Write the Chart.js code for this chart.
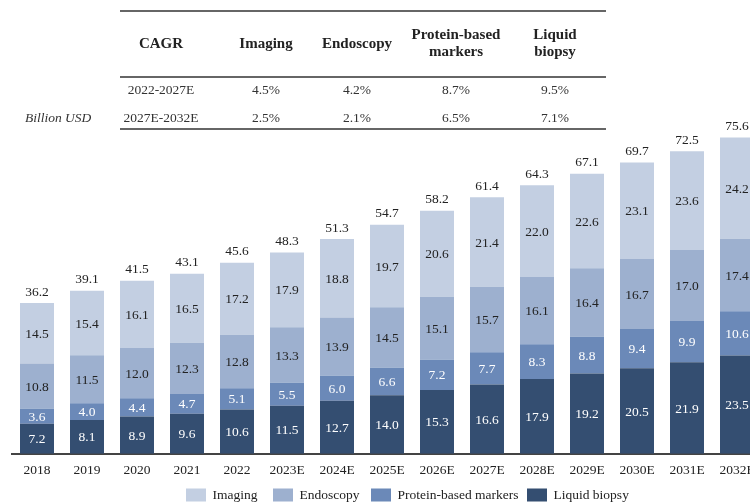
<!DOCTYPE html>
<html>
<head>
<meta charset="utf-8">
<script src="https://cdn.jsdelivr.net/npm/chart.js@4"></script>
<style>
  html, body { margin: 0; padding: 0; background: #fff; overflow: hidden; }
  #wrap { position: relative; width: 750px; height: 503px; overflow: hidden; }
  #chart { position: absolute; left: 0; top: 0; }
</style>
</head>
<body>
<div id="wrap">
  <canvas id="chart" width="812" height="503"></canvas>
</div>
<script>
const years = ["2018", "2019", "2020", "2021", "2022", "2023E", "2024E", "2025E",
  "2026E", "2027E", "2028E", "2029E", "2030E", "2031E", "2032E"];

const liquidBiopsy = [7.2, 8.1, 8.9, 9.6, 10.6, 11.5, 12.7, 14.0, 15.3, 16.6, 17.9, 19.2, 20.5, 21.9, 23.5];
const proteinMarkers = [3.6, 4.0, 4.4, 4.7, 5.1, 5.5, 6.0, 6.6, 7.2, 7.7, 8.3, 8.8, 9.4, 9.9, 10.6];
const endoscopy = [10.8, 11.5, 12.0, 12.3, 12.8, 13.3, 13.9, 14.5, 15.1, 15.7, 16.1, 16.4, 16.7, 17.0, 17.4];
const imaging = [14.5, 15.4, 16.1, 16.5, 17.2, 17.9, 18.8, 19.7, 20.6, 21.4, 22.0, 22.6, 23.1, 23.6, 24.2];
const totals = [36.2, 39.1, 41.5, 43.1, 45.6, 48.3, 51.3, 54.7, 58.2, 61.4, 64.3, 67.1, 69.7, 72.5, 75.6];

// CAGR table above the bars
const cagrHeaders = ["CAGR", "Imaging", "Endoscopy", "Protein-based\nmarkers", "Liquid\nbiopsy"];
const cagrRows = [
  ["2022-2027E", "4.5%", "4.2%", "8.7%", "9.5%"],
  ["2027E-2032E", "2.5%", "2.1%", "6.5%", "7.1%"],
];
const unitLabel = "Billion USD";

const SERIF = '"Liberation Serif", "DejaVu Serif", serif';

const colors = {
  imaging: "#c3cfe2",
  endoscopy: "#9db0cf",
  protein: "#6b89b8",
  liquid: "#344e71",
};

const segmentLabels = {
  id: "segmentLabels",
  afterDatasetsDraw(chart) {
    const ctx = chart.ctx;
    ctx.save();
    ctx.font = "13.5px " + SERIF;
    ctx.textAlign = "center";
    ctx.textBaseline = "middle";
    chart.data.datasets.forEach((ds, i) => {
      const meta = chart.getDatasetMeta(i);
      meta.data.forEach((bar, j) => {
        ctx.fillStyle = ds.labelColor;
        const mid = (bar.y + bar.base) / 2 + 1;
        ctx.fillText(ds.data[j].toFixed(1), bar.x, mid);
      });
    });
    // totals on top of each stack
    const topMeta = chart.getDatasetMeta(chart.data.datasets.length - 1);
    ctx.fillStyle = "#222";
    topMeta.data.forEach((bar, j) => {
      ctx.fillText(totals[j].toFixed(1), bar.x, bar.y - 11);
    });
    ctx.restore();
  }
};

// legend along the bottom, top series first
const bottomLegend = {
  id: "bottomLegend",
  afterDraw(chart) {
    const ctx = chart.ctx;
    const items = chart.data.datasets.slice().reverse();
    const boxX = [186, 273, 371, 527];
    const boxW = 20, boxH = 13, y = 495;
    ctx.save();
    ctx.font = "13.5px " + SERIF;
    ctx.textBaseline = "middle";
    items.forEach((ds, i) => {
      ctx.fillStyle = ds.backgroundColor;
      ctx.fillRect(boxX[i], y - boxH / 2, boxW, boxH);
      ctx.fillStyle = "#222";
      ctx.fillText(ds.label, boxX[i] + boxW + 6.5, y);
    });
    ctx.restore();
  }
};

const cagrTable = {
  id: "cagrTable",
  afterDraw(chart) {
    const ctx = chart.ctx;
    const colX = [161, 266, 357, 456, 555];
    ctx.save();
    ctx.strokeStyle = "#333";
    ctx.lineWidth = 1.5;
    [11, 77, 129].forEach(y => {
      ctx.beginPath();
      ctx.moveTo(120, y);
      ctx.lineTo(606, y);
      ctx.stroke();
    });
    ctx.fillStyle = "#222";
    ctx.textAlign = "center";
    ctx.textBaseline = "middle";
    ctx.font = "bold 15px " + SERIF;
    cagrHeaders.forEach((h, i) => {
      const lines = h.split("\n");
      if (lines.length === 1) {
        ctx.fillText(lines[0], colX[i], 44);
      } else {
        ctx.fillText(lines[0], colX[i], 35);
        ctx.fillText(lines[1], colX[i], 52);
      }
    });
    ctx.font = "13.5px " + SERIF;
    ctx.fillStyle = "#333";
    cagrRows.forEach((row, r) => {
      const y = r === 0 ? 90 : 118;
      row.forEach((cell, i) => ctx.fillText(cell, colX[i], y));
    });
    ctx.font = "italic 13.5px " + SERIF;
    ctx.textAlign = "left";
    ctx.fillText(unitLabel, 25, 118);
    ctx.restore();
  }
};

const ctx = document.getElementById("chart");

new Chart(ctx, {
  type: "bar",
  data: {
    labels: years,
    datasets: [
      { label: "Liquid biopsy", data: liquidBiopsy, backgroundColor: colors.liquid, labelColor: "#fff" },
      { label: "Protein-based markers", data: proteinMarkers, backgroundColor: colors.protein, labelColor: "#fff" },
      { label: "Endoscopy", data: endoscopy, backgroundColor: colors.endoscopy, labelColor: "#222" },
      { label: "Imaging", data: imaging, backgroundColor: colors.imaging, labelColor: "#222" },
    ],
  },
  options: {
    responsive: false,
    animation: false,
    devicePixelRatio: 1,
    layout: { padding: { left: 12, right: 50, top: 36, bottom: 23 } },
    datasets: { bar: { categoryPercentage: 1, barPercentage: 0.68, borderWidth: 0 } },
    plugins: {
      tooltip: { enabled: false },
      legend: { display: false },
    },
    scales: {
      x: {
        stacked: true,
        grid: { display: false },
        border: { display: true, color: "#444", width: 2 },
        ticks: { color: "#222", padding: 1, font: { family: SERIF, size: 13.5 }, maxRotation: 0, autoSkip: false },
      },
      y: {
        stacked: true,
        display: false,
        min: 0,
        max: 100,
      },
    },
  },
  plugins: [segmentLabels, cagrTable, bottomLegend],
});
</script>
</body>
</html>
